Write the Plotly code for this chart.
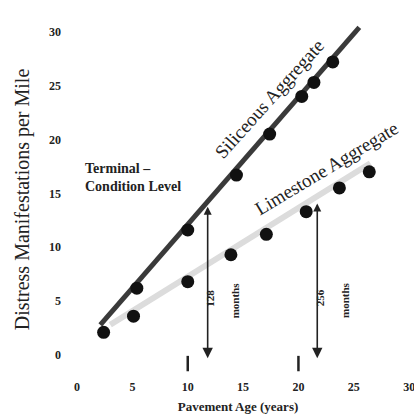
import plotly.graph_objects as go

# Data
sil_age = [5.4, 10.0, 14.4, 17.4, 20.3, 21.4, 23.1]
sil_dist = [6.2, 11.6, 16.7, 20.5, 24.0, 25.3, 27.2]
lim_age = [2.4, 5.1, 10.0, 13.9, 17.1, 20.7, 23.7, 26.4]
lim_dist = [2.1, 3.6, 6.8, 9.3, 11.2, 13.3, 15.5, 17.0]
sil_fit_age = [2.1, 25.5]
sil_fit_dist = [2.8, 30.4]
lim_fit_age = [3.0, 26.5]
lim_fit_dist = [2.8, 17.8]
life_age = [11.8, 21.7]          # terminal condition reached (years)
life_top = [13.9, 14.2]          # distress level at terminal condition
life_months = ["128", "256"]
mark_ages = [10, 20]
x_ticks = [0, 5, 10, 15, 20, 25, 30]
y_ticks = [0, 5, 10, 15, 20, 25, 30]

SERIF = "Liberation Serif"

fig = go.Figure()
fig.add_trace(go.Scatter(x=lim_fit_age, y=lim_fit_dist, mode="lines",
                         line=dict(color="#dcdcdc", width=6), hoverinfo="skip"))
fig.add_trace(go.Scatter(x=sil_fit_age, y=sil_fit_dist, mode="lines",
                         line=dict(color="#3a3a3a", width=5), hoverinfo="skip"))
fig.add_trace(go.Scatter(x=lim_age, y=lim_dist, mode="markers",
                         marker=dict(color="#111111", size=13)))
fig.add_trace(go.Scatter(x=sil_age, y=sil_dist, mode="markers",
                         marker=dict(color="#111111", size=13)))
fig.add_trace(go.Scatter(x=mark_ages, y=[-0.8] * len(mark_ages), mode="markers",
                         marker=dict(symbol="line-ns", size=11,
                                     line=dict(color="#222222", width=2.5))))

for xa, top, m in zip(life_age, life_top, life_months):
    fig.add_annotation(x=xa, y=-0.3, ax=xa, ay=top, xref="x", yref="y",
                       axref="x", ayref="y", text="", showarrow=True,
                       arrowhead=2, arrowsize=1.3, arrowwidth=1.6,
                       arrowcolor="#222222", arrowside="end+start",
                       startarrowhead=2, startarrowsize=1.0)
    fig.add_annotation(x=xa + 0.2, y=5.3, text="<b>" + m + "</b>", showarrow=False,
                       textangle=-90, font=dict(family=SERIF, size=11, color="#222"))
    fig.add_annotation(x=xa + 2.5, y=5.1, text="<b>months</b>", showarrow=False,
                       textangle=-90, font=dict(family=SERIF, size=11, color="#222"))

fig.add_annotation(x=17.4, y=23.8, text="Siliceous Aggregate", showarrow=False,
                   textangle=-48, font=dict(family=SERIF, size=19, color="#222"))
fig.add_annotation(x=22.5, y=17.3, text="Limestone Aggregate", showarrow=False,
                   textangle=-31, font=dict(family=SERIF, size=19, color="#222"))
fig.add_annotation(x=0.5, y=16.5, text="<b>Terminal –<br>Condition Level</b>",
                   showarrow=False, xanchor="left", align="left",
                   font=dict(family=SERIF, size=14, color="#222"))

fig.update_layout(
    width=414, height=420, showlegend=False,
    paper_bgcolor="white", plot_bgcolor="white",
    margin=dict(l=62, r=0, t=21, b=42, autoexpand=False),
    xaxis=dict(range=[-1.36, 30.44], tickvals=x_ticks, showgrid=False,
               zeroline=False, showline=False, automargin=False,
               ticklabeloverflow="allow",
               tickfont=dict(family=SERIF, size=12, color="#222", weight="bold"),
               title=dict(text="<b>Pavement Age (years)</b>", standoff=8,
                          font=dict(family=SERIF, size=13, color="#222"))),
    yaxis=dict(range=[-2.14, 31.0], tickvals=y_ticks, showgrid=False,
               zeroline=False, showline=False, automargin=False,
               ticklabeloverflow="allow",
               tickfont=dict(family=SERIF, size=12, color="#222", weight="bold"),
               title=dict(text="Distress Manifestations per Mile", standoff=14,
                          font=dict(family=SERIF, size=20, color="#222"))),
)

fig.write_html("out.html", config={"displayModeBar": False},
               post_script="document.body.style.margin='0px';")
